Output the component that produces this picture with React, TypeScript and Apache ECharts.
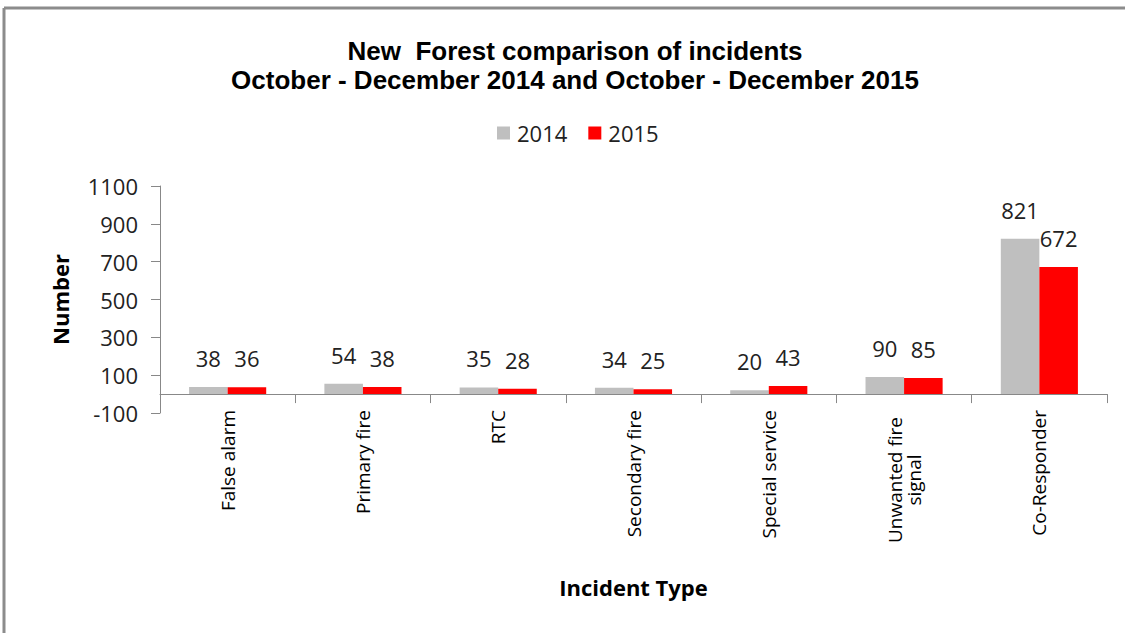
import React, { useEffect, useRef } from "react";
import * as echarts from "echarts";

const categories = [
  "False alarm",
  "Primary fire",
  "RTC",
  "Secondary fire",
  "Special service",
  "Unwanted fire\nsignal",
  "Co-Responder",
];
const values2014 = [38, 54, 35, 34, 20, 90, 821];
const values2015 = [36, 38, 28, 25, 43, 85, 672];
const yTickMin = -100;
const yTickMax = 1100;
const yTickStep = 200;

const FONT = "'Open Sans', 'Noto Sans', sans-serif";

export default function App() {
  const ref = useRef<HTMLDivElement>(null);
  useEffect(() => {
    if (!ref.current) return;
    const chart = echarts.init(ref.current, undefined, { renderer: "svg" });
    const labelCommon = {
      show: true,
      position: "top" as const,
      distance: 18,
      color: "#222",
      fontSize: 22,
      fontFamily: FONT,
    };
    chart.setOption({
      animation: false,
      backgroundColor: "#fff",
      title: {
        text: "New  Forest comparison of incidents\nOctober - December 2014 and October - December 2015",
        left: 570,
        textAlign: "center",
        top: 31,
        textStyle: {
          fontFamily: "'Liberation Sans', Arial, sans-serif",
          fontWeight: "bold",
          fontSize: 26,
          lineHeight: 29,
          color: "#000",
        },
      },
      legend: {
        left: 492,
        top: 117,
        itemWidth: 13,
        itemHeight: 13,
        itemGap: 21,
        icon: "rect",
        textStyle: { fontFamily: FONT, fontSize: 22, color: "#222", padding: [0, 0, 0, 2] },
        data: ["2014", "2015"],
      },
      grid: { left: 160, right: 18, top: 186, bottom: 220, containLabel: false },
      xAxis: {
        type: "category",
        data: categories,
        name: "Incident Type",
        nameLocation: "middle",
        nameGap: 163,
        nameTextStyle: { fontFamily: FONT, fontWeight: "bold", fontSize: 22, color: "#000" },
        axisLine: { onZero: true, lineStyle: { color: "#888", width: 1 } },
        axisTick: { show: true, length: 9, lineStyle: { color: "#888" } },
        axisLabel: {
          rotate: 90,
          margin: -3,
          interval: 0,
          fontFamily: FONT,
          fontSize: 19,
          color: "#000",
          formatter: (v: string) =>
            v.includes("\n") ? v.split("\n").map((l) => `{c|${l}}`).join("\n") : v,
          rich: {
            c: { width: 140, align: "center", fontFamily: FONT, fontSize: 19, color: "#000" },
          },
        },
      },
      yAxis: {
        type: "value",
        min: yTickMin,
        max: yTickMax,
        interval: yTickStep,
        name: "Number",
        nameLocation: "middle",
        nameGap: 89,
        nameTextStyle: { fontFamily: FONT, fontWeight: "bold", fontSize: 22, color: "#000" },
        splitLine: { show: false },
        axisLine: { show: true, lineStyle: { color: "#888", width: 1 } },
        axisTick: { show: true, length: 9, lineStyle: { color: "#888" } },
        axisLabel: {
          fontFamily: FONT,
          fontSize: 22,
          color: "#222",
          margin: 22,
          formatter: (v: number) => String(v),
        },
      },
      series: [
        {
          name: "2014",
          type: "bar",
          data: values2014,
          itemStyle: { color: "#BFBFBF" },
          barGap: "0%",
          barCategoryGap: "43%",
          label: labelCommon,
        },
        {
          name: "2015",
          type: "bar",
          data: values2015,
          itemStyle: { color: "#FF0000" },
          label: labelCommon,
        },
      ],
      graphic: [
        { type: "line", shape: { x1: 4, y1: 8, x2: 1125, y2: 8 }, style: { stroke: "#8c8c8c", lineWidth: 3 } },
        { type: "line", shape: { x1: 4, y1: 8, x2: 4, y2: 633 }, style: { stroke: "#8c8c8c", lineWidth: 3 } },
      ],
    });
    return () => chart.dispose();
  }, []);
  return (
    <div
      ref={ref}
      style={{ position: "absolute", left: 0, top: 0, width: 1125, height: 633 }}
    />
  );
}
